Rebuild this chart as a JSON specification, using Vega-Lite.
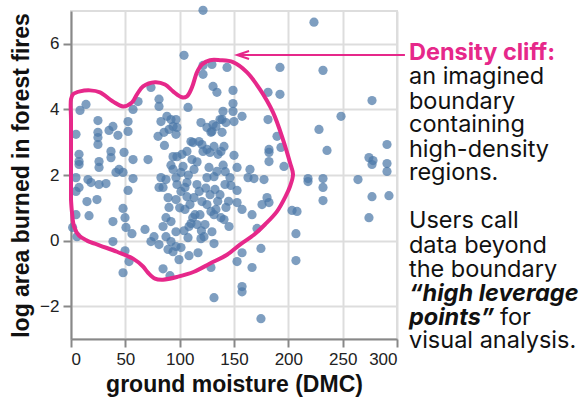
{
  "$schema": "https://vega.github.io/schema/vega-lite/v6.json",
  "width": 326,
  "height": 328,
  "autosize": {"type": "none"},
  "padding": {"left": 71, "top": 11, "right": 186, "bottom": 64},
  "config": {
    "view": {"stroke": "#dddddd", "strokeWidth": 2},
    "axis": {
      "gridColor": "#dddddd",
      "gridWidth": 2,
      "domainColor": "#888888",
      "domainWidth": 2,
      "tickColor": "#888888",
      "tickWidth": 2,
      "tickSize": 8,
      "labelFont": "Liberation Sans",
      "labelFontSize": 17,
      "labelColor": "#222222",
      "titleFont": "Liberation Sans",
      "titleFontSize": 23,
      "titleFontWeight": "bold",
      "titleColor": "#111111"
    }
  },
  "encoding": {
    "x": {
      "field": "dmc",
      "type": "quantitative",
      "title": "ground moisture (DMC)",
      "scale": {"domain": [0, 300], "nice": false},
      "axis": {"values": [0, 50, 100, 150, 200, 250, 300], "labelPadding": 4, "titlePadding": 6}
    },
    "y": {
      "field": "area",
      "type": "quantitative",
      "title": "log area burned in forest fires",
      "scale": {"domain": [-3, 7], "nice": false},
      "axis": {"values": [-2, 0, 2, 4, 6], "labelPadding": 4, "titlePadding": 6}
    }
  },
  "layer": [
    {
      "data": {"values": [
        {"dmc":121.5,"area":7.02},{"dmc":223.6,"area":6.66},{"dmc":104.0,"area":5.65},{"dmc":121.5,"area":5.34},{"dmc":129.7,"area":5.37},
        {"dmc":143.6,"area":5.28},{"dmc":192.3,"area":5.28},{"dmc":231.9,"area":5.19},{"dmc":121.5,"area":5.07},{"dmc":73.6,"area":4.67},
        {"dmc":130.7,"area":4.70},{"dmc":134.3,"area":4.52},{"dmc":149.1,"area":4.58},{"dmc":181.3,"area":4.52},{"dmc":192.3,"area":4.46},
        {"dmc":277.0,"area":4.27},{"dmc":13.8,"area":4.15},{"dmc":8.3,"area":3.97},{"dmc":61.7,"area":4.24},{"dmc":81.0,"area":4.31},
        {"dmc":81.0,"area":4.09},{"dmc":57.1,"area":4.00},{"dmc":107.7,"area":4.06},{"dmc":149.1,"area":4.18},{"dmc":139.9,"area":3.94},
        {"dmc":149.1,"area":3.94},{"dmc":157.4,"area":3.79},{"dmc":248.5,"area":3.79},{"dmc":24.8,"area":3.66},{"dmc":52.5,"area":3.63},
        {"dmc":82.8,"area":3.63},{"dmc":92.0,"area":3.69},{"dmc":93.9,"area":3.48},{"dmc":90.2,"area":3.39},{"dmc":85.6,"area":3.30},
        {"dmc":80.1,"area":3.18},{"dmc":35.0,"area":3.36},{"dmc":38.6,"area":3.48},{"dmc":43.2,"area":3.21},{"dmc":52.5,"area":3.33},
        {"dmc":24.8,"area":3.30},{"dmc":24.8,"area":3.14},{"dmc":24.8,"area":2.93},{"dmc":4.6,"area":3.24},{"dmc":139.0,"area":3.69},
        {"dmc":142.6,"area":3.60},{"dmc":150.0,"area":3.63},{"dmc":119.6,"area":3.60},{"dmc":125.1,"area":3.45},{"dmc":129.7,"area":3.33},
        {"dmc":133.4,"area":3.48},{"dmc":128.8,"area":3.30},{"dmc":139.0,"area":3.30},{"dmc":96.6,"area":3.69},{"dmc":97.5,"area":3.45},
        {"dmc":96.6,"area":3.24},{"dmc":181.3,"area":3.69},{"dmc":228.2,"area":3.39},{"dmc":110.4,"area":3.02},{"dmc":117.8,"area":3.02},
        {"dmc":120.5,"area":2.93},{"dmc":131.6,"area":2.87},{"dmc":125.1,"area":2.78},{"dmc":140.8,"area":2.87},{"dmc":138.0,"area":2.72},
        {"dmc":106.7,"area":2.72},{"dmc":97.5,"area":2.56},{"dmc":7.4,"area":2.63},{"dmc":7.4,"area":2.41},{"dmc":36.8,"area":2.72},
        {"dmc":36.8,"area":2.53},{"dmc":48.8,"area":2.69},{"dmc":57.1,"area":2.47},{"dmc":70.9,"area":2.47},{"dmc":25.8,"area":2.41},
        {"dmc":93.9,"area":2.56},{"dmc":182.2,"area":2.78},{"dmc":182.2,"area":2.69},{"dmc":182.2,"area":2.41},{"dmc":193.2,"area":2.84},
        {"dmc":235.6,"area":2.75},{"dmc":290.8,"area":2.93},{"dmc":274.2,"area":2.53},{"dmc":277.9,"area":2.44},{"dmc":290.8,"area":2.35},
        {"dmc":290.8,"area":2.11},{"dmc":277.0,"area":2.32},{"dmc":218.1,"area":1.89},{"dmc":218.1,"area":1.80},{"dmc":231.9,"area":1.89},
        {"dmc":231.9,"area":1.62},{"dmc":231.9,"area":1.22},{"dmc":264.1,"area":1.86},{"dmc":277.0,"area":1.34},{"dmc":292.6,"area":1.37},
        {"dmc":274.2,"area":0.70},{"dmc":203.4,"area":0.92},{"dmc":208.0,"area":0.89},{"dmc":207.0,"area":0.21},{"dmc":207.0,"area":-0.61},
        {"dmc":196.0,"area":2.26},{"dmc":152.8,"area":2.23},{"dmc":164.7,"area":2.17},{"dmc":162.9,"area":1.92},{"dmc":168.4,"area":1.89},
        {"dmc":177.6,"area":1.86},{"dmc":147.2,"area":1.68},{"dmc":152.8,"area":1.53},{"dmc":152.8,"area":1.16},{"dmc":157.4,"area":0.95},
        {"dmc":166.6,"area":0.79},{"dmc":175.8,"area":1.10},{"dmc":180.4,"area":1.31},{"dmc":182.2,"area":1.16},{"dmc":171.2,"area":0.37},
        {"dmc":174.8,"area":-0.24},{"dmc":157.4,"area":-0.37},{"dmc":152.8,"area":-0.64},{"dmc":166.6,"area":-0.82},{"dmc":157.4,"area":-1.40},
        {"dmc":157.4,"area":-1.56},{"dmc":131.6,"area":-1.74},{"dmc":174.8,"area":-2.38},{"dmc":128.8,"area":-0.82},{"dmc":131.6,"area":-0.09},
        {"dmc":116.9,"area":-0.37},{"dmc":108.6,"area":-0.46},{"dmc":99.4,"area":-0.58},{"dmc":101.2,"area":-0.21},{"dmc":96.6,"area":-0.18},
        {"dmc":119.6,"area":0.06},{"dmc":122.4,"area":0.12},{"dmc":107.7,"area":0.09},{"dmc":129.7,"area":0.27},{"dmc":110.4,"area":0.52},
        {"dmc":115.9,"area":0.49},{"dmc":108.6,"area":0.43},{"dmc":142.6,"area":1.01},{"dmc":145.4,"area":0.43},{"dmc":138.0,"area":0.70},
        {"dmc":140.8,"area":0.64},{"dmc":133.4,"area":0.95},{"dmc":128.8,"area":0.89},{"dmc":131.6,"area":0.79},{"dmc":125.1,"area":1.10},
        {"dmc":120.5,"area":1.19},{"dmc":113.2,"area":1.31},{"dmc":106.7,"area":1.34},{"dmc":101.2,"area":1.50},{"dmc":97.5,"area":1.71},
        {"dmc":106.7,"area":1.77},{"dmc":115.9,"area":1.71},{"dmc":125.1,"area":1.92},{"dmc":131.6,"area":1.95},{"dmc":134.3,"area":2.11},
        {"dmc":127.0,"area":2.23},{"dmc":113.2,"area":2.17},{"dmc":101.2,"area":2.08},{"dmc":96.6,"area":1.92},{"dmc":7.4,"area":2.32},
        {"dmc":25.8,"area":2.23},{"dmc":44.2,"area":2.17},{"dmc":47.9,"area":2.08},{"dmc":57.1,"area":1.89},{"dmc":41.4,"area":2.08},
        {"dmc":15.6,"area":1.86},{"dmc":18.4,"area":1.77},{"dmc":25.8,"area":1.71},{"dmc":32.2,"area":1.74},{"dmc":4.6,"area":1.92},
        {"dmc":7.4,"area":1.62},{"dmc":4.6,"area":1.50},{"dmc":52.5,"area":1.53},{"dmc":14.7,"area":1.19},{"dmc":23.9,"area":1.25},
        {"dmc":16.6,"area":0.76},{"dmc":4.6,"area":0.79},{"dmc":47.9,"area":0.98},{"dmc":49.7,"area":0.70},{"dmc":38.6,"area":0.58},
        {"dmc":50.6,"area":0.40},{"dmc":56.1,"area":0.21},{"dmc":68.1,"area":0.34},{"dmc":5.5,"area":0.12},{"dmc":38.6,"area":-0.03},
        {"dmc":49.7,"area":-0.31},{"dmc":53.4,"area":-0.64},{"dmc":47.9,"area":-0.98},{"dmc":73.6,"area":-0.03},{"dmc":82.8,"area":1.92},
        {"dmc":87.4,"area":1.86},{"dmc":84.7,"area":1.62},{"dmc":81.0,"area":1.62},{"dmc":89.3,"area":1.31},{"dmc":90.2,"area":1.01},
        {"dmc":87.4,"area":0.70},{"dmc":84.7,"area":0.43},{"dmc":87.4,"area":0.12},{"dmc":92.0,"area":-0.03},{"dmc":96.6,"area":0.27},
        {"dmc":92.0,"area":0.58},{"dmc":81.0,"area":-0.12},{"dmc":76.4,"area":0.12},{"dmc":84.7,"area":-0.86},{"dmc":89.3,"area":-0.27},
        {"dmc":93.9,"area":-0.34},{"dmc":1.5,"area":0.40},{"dmc":91.1,"area":-1.07},{"dmc":102.1,"area":2.63},{"dmc":111.3,"area":2.47},
        {"dmc":93.9,"area":2.17},{"dmc":103.1,"area":2.26},{"dmc":121.5,"area":2.72},{"dmc":127.9,"area":2.69},{"dmc":135.3,"area":2.63},
        {"dmc":112.3,"area":2.99},{"dmc":130.7,"area":3.54},{"dmc":137.1,"area":3.69},{"dmc":88.3,"area":3.79},{"dmc":189.6,"area":3.18},
        {"dmc":104.9,"area":1.62},{"dmc":109.5,"area":1.10},{"dmc":118.7,"area":0.79},{"dmc":137.1,"area":1.40},{"dmc":141.7,"area":1.71},
        {"dmc":146.3,"area":1.92},{"dmc":114.1,"area":0.79},{"dmc":123.3,"area":0.49},{"dmc":104.9,"area":0.95},{"dmc":132.5,"area":1.56},
        {"dmc":96.6,"area":1.25},
        {"dmc":118.0,"area":1.50},{"dmc":124.0,"area":1.60},{"dmc":128.0,"area":1.40},{"dmc":135.0,"area":1.20},{"dmc":112.0,"area":0.70},
        {"dmc":120.0,"area":0.30},{"dmc":104.0,"area":0.30},{"dmc":140.0,"area":2.30},{"dmc":142.0,"area":2.10},{"dmc":116.0,"area":2.40},
        {"dmc":108.0,"area":2.00},{"dmc":92.0,"area":2.30},{"dmc":86.0,"area":2.90},{"dmc":145.0,"area":1.20},{"dmc":150.0,"area":2.60},
        {"dmc":100.0,"area":1.00}
      ]},
      "mark": {"type": "circle", "size": 85, "color": "#4c78a8", "opacity": 0.72}
    },
    {
      "data": {"values": [
        {"i":0,"dmc":0,"area":1.25},{"i":1,"dmc":0,"area":2.78},{"i":2,"dmc":0,"area":3.69},{"i":3,"dmc":0,"area":4.31},
        {"i":4,"dmc":1.8,"area":4.46},{"i":5,"dmc":8.3,"area":4.55},{"i":6,"dmc":17.5,"area":4.58},{"i":7,"dmc":26.7,"area":4.52},
        {"i":8,"dmc":38.6,"area":4.24},{"i":9,"dmc":47.9,"area":4.09},{"i":10,"dmc":56.1,"area":4.21},{"i":11,"dmc":60.7,"area":4.46},
        {"i":12,"dmc":66.3,"area":4.70},{"i":13,"dmc":77.3,"area":4.83},{"i":14,"dmc":86.5,"area":4.76},{"i":15,"dmc":93.9,"area":4.55},
        {"i":16,"dmc":102.1,"area":4.37},{"i":17,"dmc":106.7,"area":4.40},{"i":18,"dmc":111.3,"area":4.67},{"i":19,"dmc":115.9,"area":5.13},
        {"i":20,"dmc":120.5,"area":5.37},{"i":21,"dmc":127.9,"area":5.50},{"i":22,"dmc":137.1,"area":5.50},{"i":23,"dmc":149.1,"area":5.44},
        {"i":24,"dmc":162.0,"area":5.13},{"i":25,"dmc":173.9,"area":4.61},{"i":26,"dmc":185.9,"area":3.91},{"i":27,"dmc":195.1,"area":3.08},
        {"i":28,"dmc":201.5,"area":2.38},{"i":29,"dmc":204.3,"area":2.02},{"i":30,"dmc":201.5,"area":1.65},{"i":31,"dmc":197.8,"area":1.37},
        {"i":32,"dmc":189.6,"area":0.89},{"i":33,"dmc":178.5,"area":0.49},{"i":34,"dmc":168.4,"area":0.18},{"i":35,"dmc":155.5,"area":-0.12},
        {"i":36,"dmc":143.6,"area":-0.43},{"i":37,"dmc":127.9,"area":-0.70},{"i":38,"dmc":113.2,"area":-0.95},{"i":39,"dmc":98.5,"area":-1.10},
        {"i":40,"dmc":84.7,"area":-1.19},{"i":41,"dmc":77.3,"area":-1.16},{"i":42,"dmc":70.9,"area":-0.98},{"i":43,"dmc":66.3,"area":-0.79},
        {"i":44,"dmc":57.1,"area":-0.55},{"i":45,"dmc":42.3,"area":-0.34},{"i":46,"dmc":26.7,"area":-0.15},{"i":47,"dmc":14.7,"area":0.0},
        {"i":48,"dmc":7.4,"area":0.15},{"i":49,"dmc":2.8,"area":0.43},{"i":50,"dmc":0.9,"area":0.86},{"i":51,"dmc":0,"area":1.25}
      ]},
      "mark": {"type": "line", "color": "#e6288a", "strokeWidth": 4, "interpolate": "catmull-rom", "strokeCap": "round"},
      "encoding": {"order": {"field": "i", "type": "quantitative"}}
    },
    {
      "data": {"values": [{"dmc": 153.5, "dmc2": 307.3, "area": 5.66}]},
      "mark": {"type": "rule", "color": "#e6288a", "strokeWidth": 2},
      "encoding": {"x2": {"field": "dmc2"}}
    },
    {
      "data": {"values": [{"dmc": 152.8, "area": 5.66}]},
      "mark": {"type": "point", "shape": "M2,-0.67L0,0L2,0.67", "size": 144, "filled": false, "stroke": "#e6288a", "strokeWidth": 2, "opacity": 1},
      "encoding": {}
    },
    {
      "data": {"values": [{"dmc": 311, "area": 5.50, "label": "Density cliff:"}]},
      "mark": {"type": "text", "align": "left", "baseline": "alphabetic", "font": "Inter", "fontSize": 23.5, "fontWeight": "bold", "color": "#e6288a"},
      "encoding": {"text": {"field": "label"}}
    },
    {
      "data": {"values": [
        {"dmc": 311, "area": 4.76, "label": "an imagined"},
        {"dmc": 311, "area": 4.00, "label": "boundary"},
        {"dmc": 311, "area": 3.30, "label": "containing"},
        {"dmc": 311, "area": 2.56, "label": "high-density"},
        {"dmc": 311, "area": 1.86, "label": "regions."},
        {"dmc": 311, "area": 0.37, "label": "Users call"},
        {"dmc": 311, "area": -0.37, "label": "data beyond"},
        {"dmc": 311, "area": -1.10, "label": "the boundary"},
        {"dmc": 394.8, "area": -2.56, "label": "for"},
        {"dmc": 311, "area": -3.27, "label": "visual analysis."}
      ]},
      "mark": {"type": "text", "align": "left", "baseline": "alphabetic", "font": "Inter", "fontSize": 23.5, "color": "#111111"},
      "encoding": {"text": {"field": "label"}}
    },
    {
      "data": {"values": [
        {"dmc": 311, "area": -1.83, "label": "“high leverage"},
        {"dmc": 311, "area": -2.56, "label": "points”"}
      ]},
      "mark": {"type": "text", "align": "left", "baseline": "alphabetic", "font": "Inter", "fontSize": 23.5, "fontWeight": "bold", "fontStyle": "italic", "color": "#111111"},
      "encoding": {"text": {"field": "label"}}
    }
  ]
}
